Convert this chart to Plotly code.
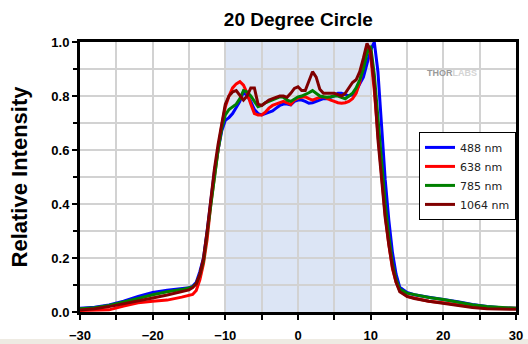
import plotly.graph_objects as go

# Angle grid (degrees) shared by all four measured profiles
angles = [-30, -28, -26, -24, -22, -20, -18, -16, -15, -14.5, -14, -13.5, -13, -12.5,
          -12, -11.5, -11, -10.5, -10, -9.5, -9, -8.5, -8, -7.5, -7, -6.5, -6, -5.5,
          -5, -4.5, -4, -3.5, -3, -2.5, -2, -1.5, -1, -0.5, 0, 0.5, 1, 1.5, 2, 2.5,
          3, 3.5, 4, 4.5, 5, 5.5, 6, 6.5, 7, 7.5, 8, 8.5, 9, 9.5, 10, 10.5, 11, 11.5,
          12, 12.5, 13, 13.5, 14, 15, 16, 18, 20, 22, 24, 26, 28, 30]

int_488 = [0.014, 0.018, 0.026, 0.040, 0.058, 0.072, 0.081, 0.087, 0.090, 0.095, 0.110, 0.150, 0.200, 0.300,
           0.420, 0.520, 0.600, 0.670, 0.710, 0.720, 0.735, 0.755, 0.780, 0.815, 0.800, 0.780, 0.750, 0.735,
           0.730, 0.735, 0.740, 0.745, 0.755, 0.765, 0.770, 0.770, 0.767, 0.780, 0.785, 0.785, 0.780, 0.773, 0.775, 0.780,
           0.785, 0.790, 0.790, 0.795, 0.800, 0.810, 0.810, 0.805, 0.800, 0.805, 0.820, 0.845, 0.870, 0.920, 0.970, 1.000, 0.890, 0.690,
           0.490, 0.340, 0.220, 0.140, 0.092, 0.072, 0.064, 0.055, 0.047, 0.038, 0.028, 0.020, 0.016, 0.014]

int_638 = [0.006, 0.006, 0.008, 0.022, 0.034, 0.040, 0.044, 0.055, 0.062, 0.065, 0.080, 0.120, 0.180, 0.270,
           0.400, 0.510, 0.600, 0.690, 0.760, 0.800, 0.830, 0.845, 0.853, 0.840, 0.810, 0.770, 0.735, 0.730,
           0.730, 0.740, 0.755, 0.765, 0.770, 0.775, 0.780, 0.775, 0.768, 0.785, 0.792, 0.795, 0.797, 0.790, 0.785, 0.790,
           0.795, 0.797, 0.790, 0.785, 0.780, 0.775, 0.773, 0.775, 0.780, 0.790, 0.810, 0.850, 0.920, 0.990, 0.950, 0.820, 0.660, 0.500,
           0.360, 0.250, 0.160, 0.110, 0.080, 0.058, 0.052, 0.040, 0.034, 0.026, 0.019, 0.014, 0.014, 0.014]

int_785 = [0.012, 0.016, 0.024, 0.036, 0.050, 0.064, 0.075, 0.083, 0.088, 0.093, 0.105, 0.140, 0.190, 0.290,
           0.410, 0.510, 0.600, 0.680, 0.730, 0.750, 0.760, 0.770, 0.790, 0.820, 0.815, 0.800, 0.780, 0.760,
           0.765, 0.775, 0.780, 0.785, 0.790, 0.797, 0.795, 0.785, 0.780, 0.790, 0.797, 0.800, 0.805, 0.812, 0.820, 0.810,
           0.800, 0.797, 0.795, 0.797, 0.800, 0.800, 0.795, 0.790, 0.800, 0.810, 0.830, 0.860, 0.900, 0.960, 0.985, 0.880, 0.720, 0.550,
           0.400, 0.280, 0.180, 0.120, 0.085, 0.070, 0.064, 0.054, 0.046, 0.036, 0.027, 0.020, 0.016, 0.014]

int_1064 = [0.007, 0.012, 0.020, 0.030, 0.042, 0.052, 0.063, 0.075, 0.082, 0.090, 0.105, 0.140, 0.200, 0.300,
            0.420, 0.530, 0.620, 0.700, 0.770, 0.800, 0.815, 0.820, 0.800, 0.785, 0.800, 0.830, 0.830, 0.770,
            0.765, 0.775, 0.785, 0.790, 0.795, 0.800, 0.800, 0.795, 0.810, 0.828, 0.834, 0.820, 0.820, 0.855, 0.890, 0.870,
            0.825, 0.810, 0.810, 0.810, 0.810, 0.805, 0.800, 0.810, 0.830, 0.850, 0.860, 0.890, 0.940, 0.995, 0.965, 0.840, 0.640, 0.490,
            0.350, 0.250, 0.165, 0.110, 0.075, 0.058, 0.050, 0.040, 0.032, 0.024, 0.017, 0.012, 0.010, 0.010]

series_names = ["488 nm", "638 nm", "785 nm", "1064 nm"]
series_values = [int_488, int_638, int_785, int_1064]
series_colors = ["#0000ff", "#ff0000", "#008000", "#800000"]

x_ticks = [-30, -20, -10, 0, 10, 20, 30]
y_ticks = [0.0, 0.2, 0.4, 0.6, 0.8, 1.0]

fig = go.Figure()
for name, vals, color in zip(series_names, series_values, series_colors):
    fig.add_trace(go.Scatter(x=angles, y=vals, name=name, mode="lines",
                             line=dict(color=color, width=3)))

# Shaded field-of-view band
fig.add_shape(type="rect", xref="x", yref="y", x0=-10, x1=10, y0=0, y1=1,
              fillcolor="#dce5f5", line_width=0, layer="below")

# Pale strip along the bottom of the page
fig.add_shape(type="rect", xref="paper", yref="paper", x0=-0.2, x1=1.05,
              y0=-0.13, y1=-0.1, fillcolor="#eeebe3", line_width=0, layer="below")

fig.add_annotation(text="<b>THOR</b><span style='color:#d4d4d4'><b>LABS</b></span>",
                   xref="paper", yref="paper", x=0.915, y=0.91, showarrow=False,
                   font=dict(family="Arial", size=9, color="#9a9a9a"))

axis_font = dict(family="Arial", size=13, color="black", weight="bold")

fig.update_layout(
    width=528, height=344,
    margin=dict(l=80, r=12, t=42, b=32),
    paper_bgcolor="white", plot_bgcolor="white",
    title=dict(text="<b>20 Degree Circle</b>", x=0.565, xanchor="center", y=0.945,
               yanchor="middle", font=dict(family="Arial", size=19, color="black")),
    showlegend=True,
    legend=dict(x=1, xanchor="right", y=0.667, yanchor="top",
                bgcolor="white", bordercolor="black", borderwidth=1,
                font=dict(family="DejaVu Sans", size=11, color="#222"),
                tracegroupgap=0, itemwidth=30),
    xaxis=dict(range=[-30, 30], tickvals=x_ticks, ticks="outside", ticklen=5,
               tickwidth=2, tickcolor="black", showline=True, linecolor="black",
               linewidth=3, mirror=True, showgrid=False, zeroline=False,
               tickfont=axis_font, automargin=False, ticklabelstandoff=4,
               minor=dict(dtick=5, tick0=0, ticks="outside", ticklen=5, tickwidth=2,
                          tickcolor="black", showgrid=True, gridcolor="#d2d2d2", gridwidth=2)),
    yaxis=dict(range=[0, 1], tickvals=y_ticks, tickformat=".1f", ticks="outside",
               ticklen=5, tickwidth=2, tickcolor="black", showline=True,
               linecolor="black", linewidth=3, mirror=True, showgrid=True,
               gridcolor="#d2d2d2", gridwidth=2, zeroline=False, tickfont=axis_font,
               automargin=False,
               title=dict(text="<b>Relative Intensity</b>", standoff=18,
                          font=dict(family="Arial", size=22, color="black")),
               minor=dict(dtick=0.1, tick0=0, ticks="outside", ticklen=4, tickwidth=2,
                          tickcolor="black", showgrid=True, gridcolor="#d2d2d2", gridwidth=2)),
)

fig.write_html("out.html")
